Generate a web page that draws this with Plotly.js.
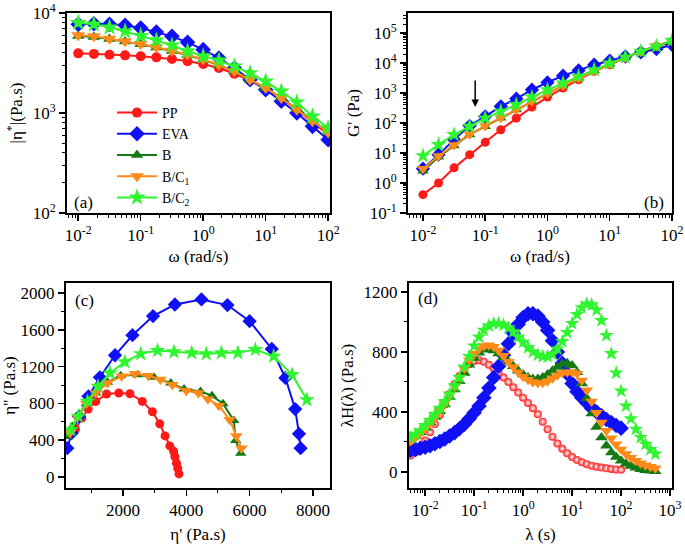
<!DOCTYPE html>
<html><head><meta charset="utf-8">
<script src="https://cdn.plot.ly/plotly-3.0.1.min.js"></script>
<style>html,body{margin:0;padding:0;background:#fff}</style>
</head><body><div id="chart" style="width:685px;height:544px"></div>
<script>
// ---------- data ----------
const seriesNames = ['PP', 'EVA', 'B', 'B/C<sub>1</sub>', 'B/C<sub>2</sub>'];
// (a),(b) angular frequency, rad/s
const omega = [0.01, 0.0178, 0.0316, 0.0562, 0.1, 0.178, 0.316, 0.562, 1, 1.78, 3.16, 5.62, 10, 17.8, 31.6, 56.2, 100];
// (a) complex viscosity |eta*| (Pa.s)
const etaPP  = [3950, 3900, 3830, 3770, 3690, 3600, 3470, 3290, 3090, 2820, 2470, 2120, 1740, 1380, 1080, 807, 607];
const etaEVA = [7700, 7800, 7700, 7550, 7080, 6460, 5840, 5090, 4300, 3550, 2820, 2150, 1710, 1310, 1000, 735, 540];
const etaB   = [5900, 5750, 5480, 5180, 4870, 4520, 4170, 3800, 3400, 3020, 2600, 2150, 1780, 1420, 1090, 830, 650];
const etaBC1 = [6000, 5840, 5540, 5210, 4900, 4540, 4200, 3830, 3420, 3040, 2610, 2150, 1780, 1410, 1080, 825, 640];
const etaBC2 = [8000, 7700, 7200, 6550, 5930, 5330, 4750, 4140, 3690, 3360, 2930, 2510, 2070, 1650, 1280, 926, 708];
// (b) storage modulus G' (Pa)
const gPP  = [0.41, 1.0, 3.2, 8.8, 22.7, 60, 147, 340, 735, 1470, 2780, 5270, 8800, 14700, 24500, 36000, 50000];
const gEVA = [3.0, 8.8, 28, 81, 166, 360, 645, 1290, 2270, 3780, 5700, 8800, 12000, 16600, 22700, 29500, 40500];
const gB   = [2.5, 7.4, 17.5, 41, 77, 147, 278, 527, 955, 1750, 3160, 5520, 9300, 15500, 24500, 38000, 55000];
const gBC1 = [3.0, 8.0, 18.5, 42, 80, 150, 280, 530, 960, 1750, 3100, 5400, 9100, 15000, 24000, 37000, 55000];
const gBC2 = [8.1, 19, 41, 77, 147, 245, 410, 735, 1290, 2150, 3600, 6000, 10000, 15800, 24500, 36000, 57000];
// (c) Cole-Cole: eta' and eta'' (Pa.s)
const e1PP  = [3770, 3730, 3690, 3640, 3600, 3480, 3330, 3160, 2930, 2610, 2220, 1870, 1480, 1140, 900, 700, 500];
const e2PP  = [33, 95, 150, 220, 280, 338, 447, 578, 709, 822, 905, 913, 902, 822, 739, 640, 520];
const e1EVA = [7610, 7560, 7440, 7130, 6700, 6000, 5300, 4480, 3640, 2950, 2300, 1750, 1270, 910, 610, 380, 240];
const e2EVA = [313, 469, 739, 1077, 1393, 1695, 1870, 1931, 1876, 1750, 1542, 1324, 1084, 877, 659, 477, 313];
const e1B   = [5720, 5560, 5500, 5160, 4810, 4450, 3930, 3510, 2980, 2460, 1930, 1510, 1140, 840, 610, 400, 240];
const e2B   = [258, 397, 615, 796, 884, 931, 957, 1022, 1084, 1113, 1102, 1030, 913, 796, 676, 550, 440];
const e1BC1 = [5740, 5580, 5370, 5030, 4680, 4380, 4000, 3560, 3180, 2800, 2380, 1960, 1510, 1140, 840, 560, 330];
const e2BC1 = [313, 447, 622, 775, 848, 913, 938, 1004, 1060, 1100, 1124, 1095, 1022, 913, 800, 650, 480];
const e1BC2 = [7810, 7340, 6760, 6180, 5630, 5110, 4630, 4170, 3610, 3090, 2560, 2060, 1590, 1210, 880, 590, 350];
const e2BC2 = [840, 1113, 1313, 1386, 1350, 1350, 1339, 1350, 1360, 1375, 1339, 1251, 1131, 986, 822, 659, 513];
// (d) relaxation spectrum: lambda (s) and lambda*H(lambda) (Pa.s)
const lam = [0.00501, 0.00631, 0.00794, 0.01, 0.0126, 0.0158, 0.02, 0.0251, 0.0316, 0.0398,
  0.0501, 0.0631, 0.0794, 0.1, 0.126, 0.158, 0.2, 0.251, 0.316, 0.398,
  0.501, 0.631, 0.794, 1, 1.26, 1.58, 2, 2.51, 3.16, 3.98,
  5.01, 6.31, 7.94, 10, 12.6, 15.8, 20, 25.1, 31.6, 39.8,
  50.1, 63.1, 79.4, 100, 126, 158, 200, 251, 316, 398, 501];
const hPP  = [110, 130, 165, 210, 265, 320, 380, 450, 520, 585, 640, 685, 720, 740, 745, 735, 715, 690, 660, 630,
  600, 565, 530, 495, 460, 425, 385, 335, 285, 235, 190, 155, 125, 100, 80, 65, 52, 42, 35, 29, 24, 20, 17, 14];
const hEVA = [145, 150, 158, 165, 175, 188, 203, 220, 240, 262, 288, 318, 355, 395, 440, 495, 560, 630, 705, 780,
  855, 925, 985, 1030, 1055, 1055, 1040, 1000, 945, 875, 800, 725, 655, 590, 535, 495, 460, 425, 400, 375, 350, 330, 310, 292];
const hB   = [215, 240, 265, 295, 330, 365, 405, 450, 500, 550, 605, 660, 715, 760, 795, 815, 820, 810, 790, 765,
  735, 705, 675, 650, 630, 620, 620, 630, 650, 675, 700, 720, 725, 710, 665, 590, 490, 390, 300, 230,
  175, 130, 100, 75, 55, 40, 28, 18, 12, 8, 5];
const hBC1 = [205, 230, 258, 290, 325, 365, 410, 460, 515, 570, 630, 690, 745, 790, 820, 840, 845, 835, 810, 775,
  735, 700, 665, 635, 615, 600, 595, 595, 605, 625, 645, 660, 665, 665, 655, 610, 545, 470, 395, 330,
  275, 225, 185, 150, 120, 95, 75, 58, 45, 35, 25];
const hBC2 = [230, 250, 275, 310, 345, 385, 425, 470, 520, 575, 630, 700, 770, 840, 900, 945, 975, 990, 990, 980,
  960, 935, 900, 865, 830, 800, 780, 770, 770, 785, 820, 870, 930, 990, 1050, 1095, 1120, 1115, 1080, 1010,
  910, 790, 660, 540, 440, 355, 285, 230, 185, 150, 120];
// tick labels
const tickValsA = [0.01, 0.1, 1, 10, 100];
const tickTextA = ['10<sup>-2</sup>', '10<sup>-1</sup>', '10<sup>0</sup>', '10<sup>1</sup>', '10<sup>2</sup>'];
const tickValsAy = [100, 1000, 10000];
const tickTextAy = ['10<sup>2</sup>', '10<sup>3</sup>', '10<sup>4</sup>'];
const tickValsBy = [0.1, 1, 10, 100, 1000, 10000, 100000];
const tickTextBy = ['10<sup>-1</sup>', '10<sup>0</sup>', '10<sup>1</sup>', '10<sup>2</sup>', '10<sup>3</sup>', '10<sup>4</sup>', '10<sup>5</sup>'];
const tickValsD = [0.01, 0.1, 1, 10, 100, 1000];
const tickTextD = ['10<sup>-2</sup>', '10<sup>-1</sup>', '10<sup>0</sup>', '10<sup>1</sup>', '10<sup>2</sup>', '10<sup>3</sup>'];

// ---------- styles ----------
const F = "'Liberation Serif', 'Times New Roman', Times, serif";
const colors = ['#ff1a1a', '#1010f5', '#157a15', '#ff8a1a', '#2ff52f'];
const symbols = ['circle', 'diamond', 'triangle-up', 'triangle-down', 'star'];
const sizesA = [10, 12, 11, 12, 13];
const sizesD = [8, 12, 11, 11, 11];
const W = 685, H = 544;
const dx = (a, b) => [a / W, b / W];
const dy = (top, bot) => [1 - bot / H, 1 - top / H];

function mk(i, size, open) {
  const m = {symbol: symbols[i], size: size, color: colors[i], line: {width: 0}};
  if (i === 0 && open) m.gradient = {type: 'radial', color: '#ffffff'};
  return m;
}
function minorLog(lo, hi) {
  const v = [];
  for (let e = lo; e < hi; e++) for (let k = 2; k <= 9; k++) v.push(k * Math.pow(10, e));
  return v;
}

const etaSets = [etaPP, etaEVA, etaB, etaBC1, etaBC2];
const gSets = [gPP, gEVA, gB, gBC1, gBC2];
const e1Sets = [e1PP, e1EVA, e1B, e1BC1, e1BC2];
const e2Sets = [e2PP, e2EVA, e2B, e2BC1, e2BC2];
const hSets = [hPP, hEVA, hB, hBC1, hBC2];

const traces = [];
for (let i = 0; i < 5; i++) {
  traces.push({x: omega, y: etaSets[i], xaxis: 'x', yaxis: 'y', type: 'scatter', mode: 'lines+markers',
    name: seriesNames[i], line: {color: colors[i], width: 2}, marker: mk(i, sizesA[i])});
}
for (let i = 0; i < 5; i++) {
  traces.push({x: omega, y: gSets[i], xaxis: 'x2', yaxis: 'y2', type: 'scatter', mode: 'lines+markers',
    showlegend: false, line: {color: colors[i], width: 2}, marker: mk(i, sizesA[i] - 1)});
}
for (let i = 0; i < 5; i++) {
  traces.push({x: e1Sets[i], y: e2Sets[i], xaxis: 'x3', yaxis: 'y3', type: 'scatter', mode: 'lines+markers',
    showlegend: false, line: {color: colors[i], width: 2}, marker: mk(i, sizesA[i] - 1)});
}
for (let i = 0; i < 5; i++) {
  traces.push({x: lam.slice(0, hSets[i].length), y: hSets[i], xaxis: 'x4', yaxis: 'y4', type: 'scatter', mode: 'markers',
    showlegend: false, marker: mk(i, sizesD[i], true)});
}

const base = {
  showline: true, linecolor: 'black', linewidth: 2, mirror: true,
  ticks: 'outside', ticklen: 6, tickwidth: 1.5, tickcolor: 'black',
  showgrid: false, zeroline: false,
  tickfont: {family: F, size: 17, color: 'black'}
};
function ax(extra, title, standoff) {
  return Object.assign({}, base, extra, {title: {text: title, font: {family: F, size: 17, color: 'black'}, standoff: standoff}});
}
const minorStyle = (vals) => ({tickmode: 'array', tickvals: vals, ticks: 'outside', ticklen: 3, tickwidth: 1, tickcolor: 'black', showgrid: false});

const layout = {
  width: W, height: H,
  margin: {l: 0, r: 0, t: 0, b: 0},
  paper_bgcolor: '#fff', plot_bgcolor: '#fff',
  font: {family: F, color: 'black'},
  showlegend: true,
  legend: {x: 112 / W, y: 1 - 97 / H, xanchor: 'left', yanchor: 'top', bgcolor: 'rgba(0,0,0,0)',
    font: {family: F, size: 14, color: 'black'}, tracegroupgap: 0, itemwidth: 40},
  xaxis: ax({domain: dx(67, 330), type: 'log', range: [-2.18, 2.03], tickmode: 'array', tickvals: tickValsA, ticktext: tickTextA,
    minor: minorStyle(minorLog(-3, 2)), anchor: 'y'}, 'ω (rad/s)', 6),
  yaxis: ax({domain: dy(13, 213), type: 'log', range: [2, 4], tickmode: 'array', tickvals: tickValsAy, ticktext: tickTextAy,
    minor: minorStyle(minorLog(2, 4)), anchor: 'x'}, '|η<sup>*</sup>|(Pa.s)', 6),
  xaxis2: ax({domain: dx(408, 672), type: 'log', range: [-2.24, 2.0], tickmode: 'array', tickvals: tickValsA, ticktext: tickTextA,
    minor: minorStyle(minorLog(-3, 2)), anchor: 'y2'}, 'ω (rad/s)', 6),
  yaxis2: ax({domain: dy(13, 213), type: 'log', range: [-1, 5.67], tickmode: 'array', tickvals: tickValsBy, ticktext: tickTextBy,
    minor: minorStyle(minorLog(-1, 6)), anchor: 'x2'}, "G' (Pa)", 6),
  xaxis3: ax({domain: dx(66, 330), range: [200, 8540], tickmode: 'array', tickvals: [2000, 4000, 6000, 8000],
    minor: minorStyle([1000, 3000, 5000, 7000]), anchor: 'y3'}, "η' (Pa.s)", 14),
  yaxis3: ax({domain: dy(283, 488), range: [-120, 2110], tickmode: 'array', tickvals: [0, 400, 800, 1200, 1600, 2000],
    minor: minorStyle([200, 600, 1000, 1400, 1800]), anchor: 'x3'}, "η'' (Pa.s)", 6),
  xaxis4: ax({domain: dx(409, 672), type: 'log', range: [-2.33, 3.04], tickmode: 'array', tickvals: tickValsD, ticktext: tickTextD,
    minor: minorStyle(minorLog(-3, 3)), anchor: 'y4'}, 'λ (s)', 10),
  yaxis4: ax({domain: dy(283, 488), range: [-107, 1260], tickmode: 'array', tickvals: [0, 400, 800, 1200],
    minor: minorStyle([200, 600, 1000]), anchor: 'x4'}, 'λH(λ) (Pa.s)', 6),
  annotations: [
    {xref: 'paper', yref: 'paper', x: 72 / W, y: 1 - 202 / H, xanchor: 'left', yanchor: 'middle', text: '(a)', showarrow: false, font: {family: F, size: 17, color: 'black'}},
    {xref: 'paper', yref: 'paper', x: 666 / W, y: 1 - 202 / H, xanchor: 'right', yanchor: 'middle', text: '(b)', showarrow: false, font: {family: F, size: 17, color: 'black'}},
    {xref: 'paper', yref: 'paper', x: 73 / W, y: 1 - 300 / H, xanchor: 'left', yanchor: 'middle', text: '(c)', showarrow: false, font: {family: F, size: 17, color: 'black'}},
    {xref: 'paper', yref: 'paper', x: 416 / W, y: 1 - 298 / H, xanchor: 'left', yanchor: 'middle', text: '(d)', showarrow: false, font: {family: F, size: 17, color: 'black'}},
    {xref: 'x2', yref: 'y2', x: Math.log10(0.069), y: Math.log10(340), ax: 0, ay: -28, text: '', showarrow: true,
      arrowhead: 2, arrowsize: 1, arrowwidth: 1.5, arrowcolor: 'black'}
  ]
};

Plotly.newPlot('chart', traces, layout, {displayModeBar: false, staticPlot: true});
</script>
</body></html>
